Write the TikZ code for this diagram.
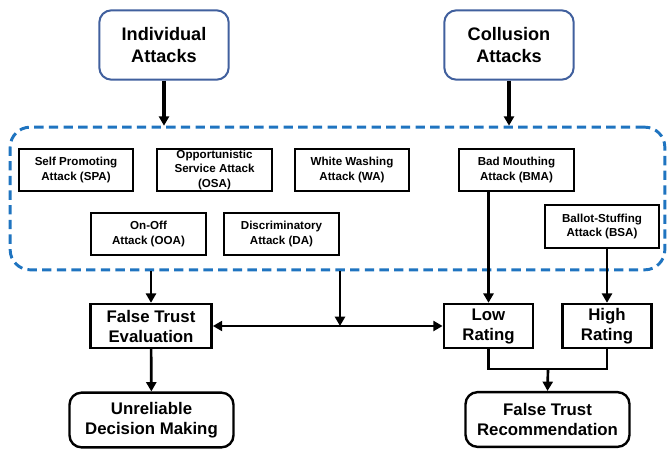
\documentclass[tikz,border=0pt]{standalone}
\usepackage{fontspec}
\setmainfont{Liberation Sans}
\usetikzlibrary{arrows.meta}
\definecolor{topblue}{HTML}{41609E}
\definecolor{dashblue}{HTML}{1F74C0}
\begin{document}
\begin{tikzpicture}[x=0.75pt, y=-0.75pt,
  >={Triangle[length=7pt,width=7.5pt]},
  topbox/.style={draw=topblue, line width=1.5pt, rounded corners=9pt, fill=white, align=center,
    font=\fontsize{13.6}{16.3}\selectfont\bfseries, minimum width=97pt, minimum height=52pt, inner sep=0pt},
  attbox/.style={draw=black, line width=1.5pt, align=center,
    font=\fontsize{8.7}{10.7}\selectfont\bfseries, minimum width=86pt, minimum height=32pt, inner sep=0pt},
  outbox/.style={draw=black, line width=1.8pt, align=center,
    font=\fontsize{12.6}{15}\selectfont\bfseries, minimum height=33pt, inner sep=0pt},
  endbox/.style={draw=black, line width=1.8pt, rounded corners=9pt, align=center,
    font=\fontsize{12.6}{15}\selectfont\bfseries, minimum width=123pt, minimum height=41pt, inner sep=0pt},
  grpbox/.style={draw=dashblue, line width=2.2pt, dash pattern=on 7pt off 4pt, rounded corners=15pt,
    minimum width=491pt, minimum height=107pt, inner sep=0pt},
  flow/.style={->, line width=2pt, draw=black},
  bigflow/.style={->, line width=3pt, draw=black}]
\useasboundingbox (0,0) rectangle (667,449);

\node[grpbox] (grp) at (337.5,198.5) {};

\node[topbox] (ind) at (164,45) {Individual\\Attacks};
\node[topbox] (col) at (509,45) {Collusion\\Attacks};

\node[attbox] (spa) at (76,170) {Self Promoting\\Attack (SPA)};
\node[attbox] (osa) at (214.5,170) {Opportunistic\\Service Attack\\(OSA)};
\node[attbox] (wa) at (352,170) {White Washing\\Attack (WA)};
\node[attbox] (bma) at (516.5,170) {Bad Mouthing\\Attack (BMA)};
\node[attbox] (ooa) at (148.5,234) {On-Off\\Attack (OOA)};
\node[attbox] (da) at (281.5,234) {Discriminatory\\Attack (DA)};
\node[attbox] (bsa) at (602,226.5) {Ballot-Stuffing\\Attack (BSA)};

\node[outbox, minimum width=91pt] (fte) at (151,326) {False Trust\\Evaluation};
\node[outbox, minimum width=67pt] (low) at (488.5,326) {Low\\Rating};
\node[outbox, minimum width=67pt] (high) at (607,326) {High\\Rating};

\node[endbox] (udm) at (151.5,420) {Unreliable\\Decision Making};
\node[endbox] (ftr) at (547.5,419.5) {False Trust\\Recommendation};

\coordinate (mid) at (340,326);
\coordinate (join) at (548,369);

\path (ind) edge[bigflow] (ind.south |- grp.north);
\path (col) edge[bigflow] (col.south |- grp.north);
\path (grp.south -| fte.north) edge[flow] (fte.north);
\path (grp.south -| mid) edge[flow] (mid);
\path (fte) edge[flow, <->] (low);
\path (bma.south -| low.north) edge[flow] (low.north);
\path (bsa.south -| high.north) edge[flow] (high.north);
\draw [line width=2pt] (low.south) |- (join) -| (high.south);
\path (join) edge[flow] (ftr.north);
\path (fte) edge[flow] (udm);
\end{tikzpicture}
\end{document}
